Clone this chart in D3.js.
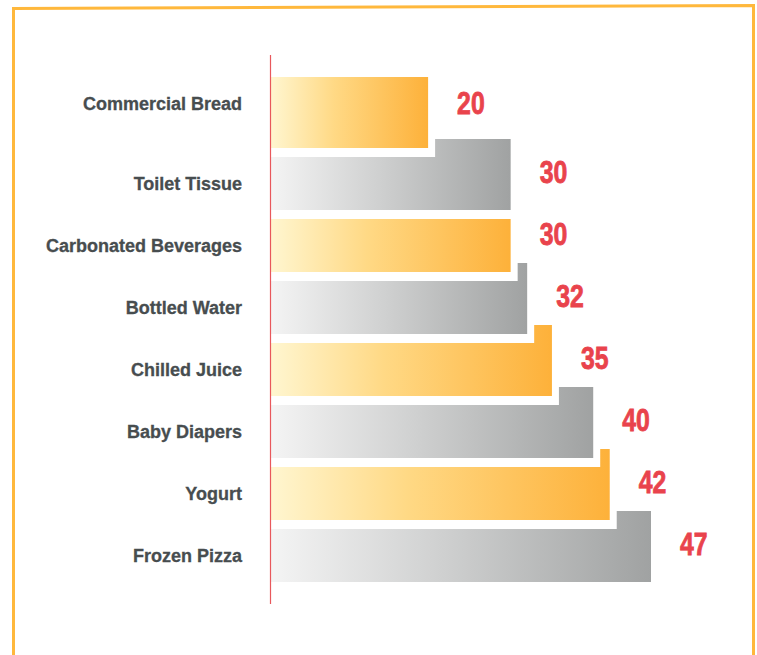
<!DOCTYPE html>
<html>
<head>
<meta charset="utf-8">
<script src="https://cdn.jsdelivr.net/npm/d3@7/dist/d3.min.js"></script>
<style>
  html, body { margin: 0; padding: 0; background: #fff; }
  svg { display: block; }
</style>
</head>
<body>
<script>
// Category names, top to bottom
const categories = [
  "Commercial Bread",
  "Toilet Tissue",
  "Carbonated Beverages",
  "Bottled Water",
  "Chilled Juice",
  "Baby Diapers",
  "Yogurt",
  "Frozen Pizza"
];
// Value for each category
const values = [20, 30, 30, 32, 35, 40, 42, 47];
// Value labels shown beside the bars
const valueLabels = ["20", "30", "30", "32", "35", "40", "42", "47"];

const W = 757, H = 655;
const svg = d3.select("body").append("svg")
  .attr("width", W).attr("height", H);

svg.append("rect").attr("width", W).attr("height", H).attr("fill", "#fff");

// Gradients: pale at the baseline, saturated toward the bar end
const defs = svg.append("defs");
const orange = defs.append("linearGradient").attr("id", "gOrange")
  .attr("x1", "0%").attr("x2", "100%").attr("y1", "0%").attr("y2", "0%");
orange.append("stop").attr("offset", "0%").attr("stop-color", "#fff6d0");
orange.append("stop").attr("offset", "40%").attr("stop-color", "#ffd985");
orange.append("stop").attr("offset", "100%").attr("stop-color", "#fdb13a");
const grey = defs.append("linearGradient").attr("id", "gGrey")
  .attr("x1", "0%").attr("x2", "100%").attr("y1", "0%").attr("y2", "0%");
grey.append("stop").attr("offset", "0%").attr("stop-color", "#f4f4f4");
grey.append("stop").attr("offset", "45%").attr("stop-color", "#cfd0d0");
grey.append("stop").attr("offset", "100%").attr("stop-color", "#a0a2a2");

// Frame (open at the bottom)
svg.append("path")
  .attr("d", "M13.5,655 L13.5,8.5 L753.5,5.5 L753.5,655")
  .attr("fill", "none").attr("stroke", "#ffb83c").attr("stroke-width", 3);

// Scales
const x = d3.scaleLinear().domain([0, 47]).range([263, 651]);
const barStart = 271;
const y = d3.scaleBand().domain(categories).range([95, 95 + 62 * 8]).paddingInner(0).paddingOuter(0);
const mainH = 53;   // height of the main bar body
const tabH = 18;    // step that rises above the body
const stepGap = 7;  // gap between a step and the bar above it

// Each bar is a stepped shape: body plus a raised step past the previous bar's end
function shape(d, i) {
  const top = y(categories[i]);
  const xe = x(values[i]);
  const tabStart = i === 0 ? barStart : x(values[i - 1]) + stepGap;
  const p = d3.path();
  if (tabStart < xe) {
    p.moveTo(barStart, top);
    p.lineTo(tabStart, top);
    p.lineTo(tabStart, top - tabH);
    p.lineTo(xe, top - tabH);
    p.lineTo(xe, top + mainH);
    p.lineTo(barStart, top + mainH);
    p.closePath();
  } else {
    p.rect(barStart, top, xe - barStart, mainH);
  }
  return p.toString();
}

svg.append("g").selectAll("path")
  .data(values)
  .join("path")
  .attr("d", shape)
  .attr("fill", (d, i) => i % 2 === 0 ? "url(#gOrange)" : "url(#gGrey)");

// Axis line
svg.append("line")
  .attr("x1", 270.5).attr("x2", 270.5).attr("y1", 55).attr("y2", 604)
  .attr("stroke", "#e8585c").attr("stroke-width", 1.2);

// Category labels
svg.append("g").selectAll("text")
  .data(categories)
  .join("text")
  .attr("x", 242)
  .attr("y", (d, i) => y(d) + mainH / 2 - (i === 0 ? tabH : 0))
  .attr("text-anchor", "end")
  .attr("dominant-baseline", "central")
  .attr("font-family", "'Liberation Sans', Arial, sans-serif")
  .attr("font-weight", "bold")
  .attr("font-size", 18)
  .attr("fill", "#474d4f")
  .attr("stroke", "#474d4f")
  .attr("stroke-width", 0.3)
  .text(d => d);

// Value labels (condensed numerals)
svg.append("g").selectAll("text")
  .data(values)
  .join("text")
  .attr("transform", (d, i) => {
    const ty = y(categories[i]) + mainH / 2 - (i === 0 ? tabH : 11);
    return `translate(${x(d) + 29},${ty}) scale(0.8,1)`;
  })
  .attr("dominant-baseline", "central")
  .attr("font-family", "'Liberation Sans', Arial, sans-serif")
  .attr("font-weight", "bold")
  .attr("font-size", 31)
  .attr("fill", "#e9434c")
  .attr("stroke", "#e9434c")
  .attr("stroke-width", 0.8)
  .text((d, i) => valueLabels[i]);
</script>
</body>
</html>
